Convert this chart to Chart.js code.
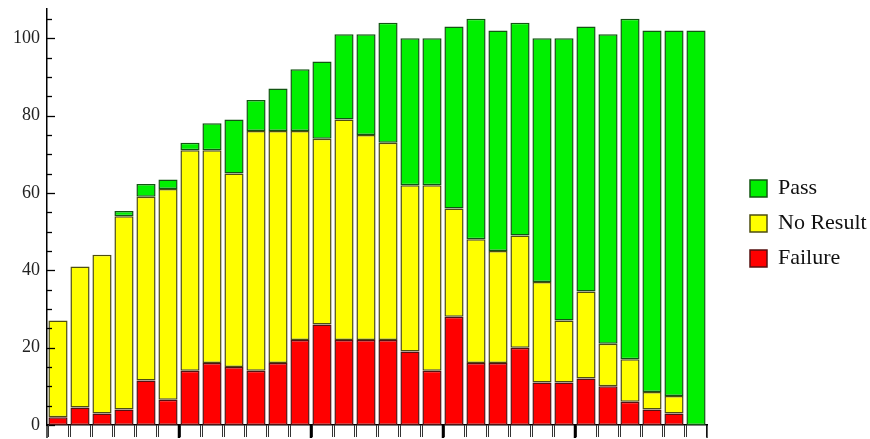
<!DOCTYPE html>
<html><head><meta charset="utf-8">
<script src="https://cdn.jsdelivr.net/npm/chart.js@4/dist/chart.umd.min.js"></script>
<style>html,body{margin:0;padding:0;background:#fff}#wrap{width:870px;height:439px;position:relative}</style>
</head><body><div id="wrap"><canvas id="c"></canvas></div>
<script>
const categories = ['1','2','3','4','5','6','7','8','9','10','11','12','13','14','15','16','17','18','19','20','21','22','23','24','25','26','27','28','29','30'];
const failure  = [2,4.5,3,4,11.5,6.5,14,16,15,14,16,22,26,22,22,22,19,14,28,16,16,20,11,11,12,10,6,4,3,0];
const noResult = [25,36.5,41,50,47.5,54.5,57,55,50,62,60,54,48,57,53,51,43,48,28,32,29,29,26,16,22.5,11,11,4.5,4.5,0];
const pass     = [0,0,0,1.3,3.3,2.5,2,7,14,8,11,16,20,22,26,31,38,38,47,57,57,55,63,73,68.5,80,88,93.5,94.5,102];
const yTickLabels = [0,20,40,60,80,100];
const yMinorStep = 5;
const groupEvery = 6;

const legendGap = {
  id: 'legendGap',
  beforeLayout(chart) {
    const lg = chart.legend;
    if (lg && !lg._wrapped) {
      const f = lg.fit;
      lg.fit = function () { f.call(this); this.width = 163; };
      lg._wrapped = true;
    }
  },
  afterLayout(chart) {
    const lg = chart.legend;
    if (lg) { lg.left = chart.chartArea.right + 30; lg.right = lg.left + 140; }
  }
};

const axisTicks = {
  id: 'axisTicks',
  afterDraw(chart) {
    const ctx = chart.ctx;
    const y = chart.scales.y, x = chart.scales.x;
    const area = chart.chartArea;
    ctx.save();
    ctx.strokeStyle = '#000';
    for (let v = 0; v <= y.max; v += yMinorStep) {
      const py = Math.round(y.getPixelForValue(v)) + 0.5;
      const len = (v % 20 === 0) ? 8 : 5;
      ctx.lineWidth = 1.3;
      ctx.beginPath(); ctx.moveTo(area.left, py); ctx.lineTo(area.left + len, py); ctx.stroke();
    }
    const meta = chart.getDatasetMeta(0);
    meta.data.forEach((bar, i) => {
      const w = bar.width;
      [bar.x - w / 2, bar.x + w / 2].forEach(px => {
        ctx.strokeStyle = '#333'; ctx.lineWidth = 1;
        ctx.beginPath(); ctx.moveTo(Math.round(px) + 0.5, area.bottom); ctx.lineTo(Math.round(px) + 0.5, area.bottom + 12); ctx.stroke();
      });
      if (i > 0 && i % groupEvery === 0) {
        const bx = (x.getPixelForValue(i) + x.getPixelForValue(i - 1)) / 2;
        ctx.strokeStyle = '#000'; ctx.lineWidth = 2.5;
        ctx.beginPath(); ctx.moveTo(bx, area.bottom); ctx.lineTo(bx, area.bottom + 13); ctx.stroke();
      }
    });
    ctx.strokeStyle = '#000'; ctx.lineWidth = 1.3;
    ctx.beginPath(); ctx.moveTo(area.left, area.bottom); ctx.lineTo(area.left, area.bottom + 13); ctx.stroke();
    ctx.beginPath(); ctx.moveTo(area.right, area.bottom); ctx.lineTo(area.right, area.bottom + 13); ctx.stroke();
    ctx.restore();
  }
};

new Chart(document.getElementById('c'), {
  type: 'bar',
  data: {
    labels: categories,
    datasets: [
      { label: 'Failure', data: failure, backgroundColor: '#ff0000', borderColor: '#551010', borderWidth: 1.5 },
      { label: 'No Result', data: noResult, backgroundColor: '#ffff00', borderColor: '#4d4d10', borderWidth: 1.5 },
      { label: 'Pass', data: pass, backgroundColor: '#00f000', borderColor: '#125512', borderWidth: 1.5 }
    ]
  },
  options: {
    responsive: true,
    maintainAspectRatio: false,
    animation: false,
    layout: { padding: { top: 8, right: 0, bottom: 0, left: 0 } },
    datasets: { bar: { categoryPercentage: 1, barPercentage: 0.87, borderSkipped: false } },
    plugins: {
      tooltip: { enabled: false },
      legend: {
        position: 'right',
        reverse: true,
        labels: {
          boxWidth: 17, boxHeight: 17, padding: 13,
          color: '#111',
          font: { family: 'Liberation Serif', size: 22 }
        }
      }
    },
    scales: {
      x: {
        stacked: true,
        grid: { display: false, drawTicks: false },
        ticks: { display: false },
        border: { display: true, color: '#000', width: 1.5 },
        afterFit(s) { s.height = 14; }
      },
      y: {
        stacked: true,
        min: 0, max: 107.6,
        grid: { display: false, drawTicks: false },
        border: { display: true, color: '#000', width: 1.5 },
        ticks: { padding: 7, color: '#222', font: { family: 'Liberation Serif', size: 18, lineHeight: 0.2 } },
        afterBuildTicks(s) { s.ticks = yTickLabels.map(v => ({ value: v })); },
        afterFit(s) { s.width = 47; }
      }
    }
  },
  plugins: [legendGap, axisTicks]
});
</script>
</body></html>
